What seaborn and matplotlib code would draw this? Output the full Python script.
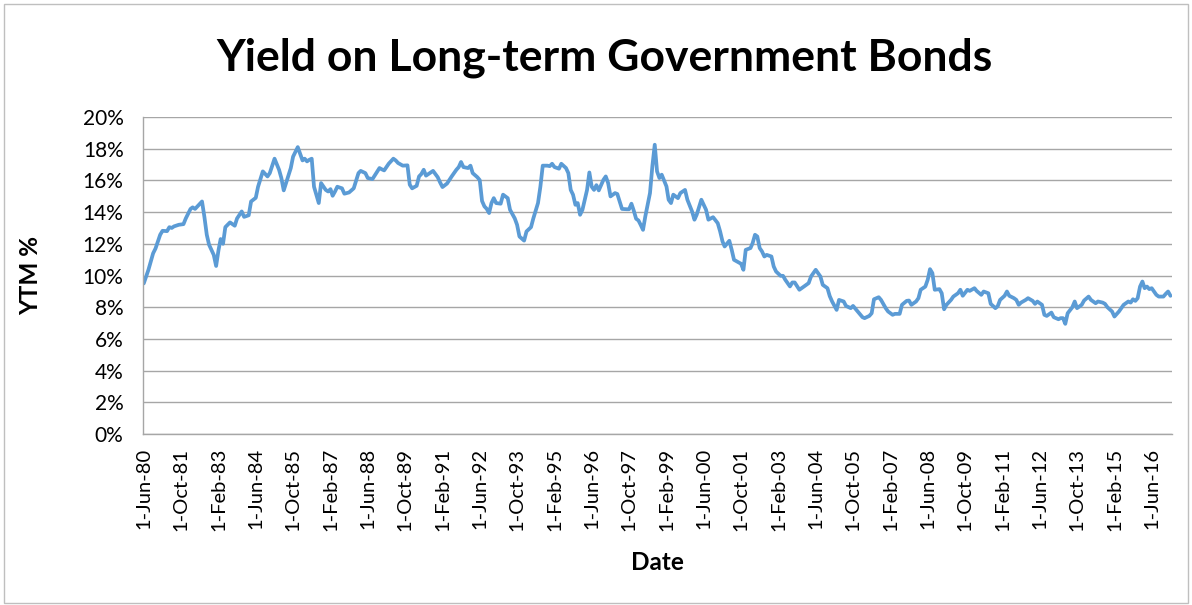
import matplotlib
matplotlib.use("Agg")
import matplotlib.pyplot as plt
import seaborn as sns
import pandas as pd
from matplotlib.ticker import FuncFormatter
from matplotlib.patches import Rectangle

# ---- data ----
start_date = "1980-06-01"
month_offset = [
    0, 2, 4, 5, 7, 8, 10, 11, 12, 13,
    15, 17, 18, 20, 21, 22, 25, 26, 27, 28,
    30, 31, 32, 33, 34, 35, 37, 39, 40, 42,
    43, 45, 46, 48, 49, 51, 53, 54, 56, 58,
    59, 60, 63, 64, 66, 68, 69, 70, 71, 72,
    73, 75, 76, 78, 79, 80, 81, 82, 83, 85,
    86, 88, 90, 92, 93, 95, 96, 98, 101, 102,
    103, 105, 107, 108, 109, 111, 113, 114, 115, 117,
    118, 119, 120, 121, 122, 124, 126, 127, 128, 130,
    132, 134, 135, 136, 137, 139, 140, 141, 143, 144,
    145, 146, 147, 148, 149, 150, 151, 153, 154, 156,
    157, 159, 160, 161, 163, 164, 166, 167, 169, 170,
    171, 173, 174, 175, 176, 178, 179, 181, 182, 183,
    184, 185, 186, 187, 188, 190, 191, 192, 193, 194,
    195, 197, 198, 199, 200, 202, 203, 204, 205, 207,
    208, 209, 210, 211, 212, 213, 214, 215, 217, 218,
    219, 220, 221, 222, 224, 225, 226, 227, 229, 230,
    232, 233, 235, 236, 237, 239, 241, 242, 244, 246,
    247, 248, 249, 251, 252, 253, 255, 256, 257, 258,
    260, 261, 262, 263, 264, 265, 266, 267, 269, 270,
    271, 273, 274, 275, 277, 278, 279, 281, 282, 283,
    285, 286, 288, 290, 291, 293, 294, 295, 297, 298,
    300, 301, 303, 304, 306, 308, 309, 311, 312, 313,
    315, 316, 318, 319, 321, 322, 324, 325, 327, 328,
    329, 331, 332, 333, 335, 336, 337, 338, 339, 341,
    342, 343, 344, 346, 347, 349, 350, 351, 353, 354,
    356, 357, 359, 360, 362, 363, 365, 366, 367, 369,
    370, 371, 373, 374, 375, 376, 378, 379, 381, 382,
    383, 385, 386, 387, 389, 390, 392, 393, 394, 395,
    396, 398, 399, 400, 402, 403, 405, 406, 408, 409,
    411, 412, 413, 415, 416, 418, 419, 420, 422, 423,
    424, 425, 426, 427, 428, 429, 430, 431, 432, 434,
    435, 437, 438, 439, 440,
]
ytm_pct = [
    9.5, 10.36, 11.4, 11.7, 12.57, 12.82, 12.8, 13.05, 13.0, 13.1,
    13.2, 13.24, 13.6, 14.2, 14.3, 14.2, 14.67, 13.7, 12.57, 11.94,
    11.3, 10.6, 11.6, 12.3, 12.0, 13.05, 13.35, 13.14, 13.6, 14.04,
    13.7, 13.8, 14.67, 14.9, 15.6, 16.57, 16.25, 16.46, 17.37, 16.67,
    16.15, 15.37, 16.78, 17.5, 18.1, 17.26, 17.37, 17.2, 17.3, 17.37,
    15.6, 14.57, 15.83, 15.4, 15.3, 15.45, 15.03, 15.3, 15.6, 15.5,
    15.16, 15.24, 15.5, 16.46, 16.6, 16.46, 16.15, 16.08, 16.78, 16.7,
    16.63, 17.05, 17.37, 17.26, 17.1, 16.93, 16.95, 15.73, 15.5, 15.66,
    16.25, 16.4, 16.67, 16.3, 16.4, 16.6, 16.2, 15.87, 15.58, 15.8,
    16.25, 16.67, 16.84, 17.16, 16.84, 16.78, 16.93, 16.46, 16.2, 16.02,
    14.7, 14.36, 14.2, 13.94, 14.57, 14.88, 14.57, 14.53, 15.1, 14.88,
    14.15, 13.6, 13.2, 12.46, 12.2, 12.78, 13.05, 13.6, 14.57, 15.6,
    16.93, 16.93, 16.9, 17.05, 16.84, 16.74, 17.05, 16.78, 16.46, 15.4,
    15.1, 14.46, 14.57, 13.83, 14.15, 15.4, 16.5, 15.6, 15.4, 15.7,
    15.37, 16.04, 16.25, 15.83, 14.99, 15.2, 15.14, 14.67, 14.2, 14.18,
    14.18, 14.53, 14.1, 13.58, 13.47, 13.2, 12.88, 13.73, 15.2, 16.9,
    18.25, 16.57, 16.15, 16.36, 15.62, 14.78, 14.57, 15.1, 14.88, 15.2,
    15.4, 14.78, 14.04, 13.52, 13.83, 14.78, 14.15, 13.52, 13.68, 13.3,
    12.78, 12.15, 11.83, 12.19, 11.62, 10.99, 10.82, 10.74, 10.36, 11.62,
    11.73, 12.04, 12.57, 12.46, 11.73, 11.52, 11.2, 11.3, 11.2, 10.57,
    10.25, 9.98, 9.98, 9.73, 9.31, 9.56, 9.56, 9.1, 9.2, 9.31,
    9.52, 9.94, 10.36, 9.94, 9.41, 9.2, 8.7, 8.36, 7.83, 8.46,
    8.36, 8.08, 7.94, 8.08, 7.73, 7.37, 7.31, 7.45, 7.62, 8.5,
    8.63, 8.46, 7.94, 7.73, 7.52, 7.58, 7.58, 8.15, 8.4, 8.42,
    8.15, 8.36, 8.57, 9.1, 9.3, 9.73, 10.4, 10.15, 9.1, 9.14,
    8.88, 7.87, 8.15, 8.46, 8.67, 8.88, 9.1, 8.72, 9.1, 9.03,
    9.2, 9.03, 8.78, 8.99, 8.88, 8.21, 7.94, 8.06, 8.46, 8.72,
    8.99, 8.72, 8.57, 8.46, 8.15, 8.29, 8.46, 8.57, 8.4, 8.21,
    8.36, 8.15, 7.52, 7.45, 7.66, 7.37, 7.24, 7.31, 7.31, 6.95,
    7.62, 8.0, 8.36, 7.94, 8.15, 8.42, 8.67, 8.46, 8.25, 8.36,
    8.29, 8.21, 8.0, 7.73, 7.41, 7.73, 7.94, 8.15, 8.36, 8.29,
    8.5, 8.4, 8.57, 9.3, 9.62, 9.2, 9.3, 9.14, 9.2, 8.78,
    8.67, 8.67, 8.84, 8.99, 8.72,
]
x_tick_labels = [
    "1-Jun-80", "1-Oct-81", "1-Feb-83", "1-Jun-84", "1-Oct-85", "1-Feb-87",
    "1-Jun-88", "1-Oct-89", "1-Feb-91", "1-Jun-92", "1-Oct-93", "1-Feb-95",
    "1-Jun-96", "1-Oct-97", "1-Feb-99", "1-Jun-00", "1-Oct-01", "1-Feb-03",
    "1-Jun-04", "1-Oct-05", "1-Feb-07", "1-Jun-08", "1-Oct-09", "1-Feb-11",
    "1-Jun-12", "1-Oct-13", "1-Feb-15", "1-Jun-16",
]
y_ticks = [0, 2, 4, 6, 8, 10, 12, 14, 16, 18, 20]

title = "Yield on Long-term Government Bonds"
x_title = "Date"
y_title = "YTM %"

# ---- build frame ----
start = pd.Timestamp(start_date)
dates = [start + pd.DateOffset(months=m) for m in month_offset]
df = pd.DataFrame({"Date": dates, "YTM": ytm_pct})
tick_dates = pd.to_datetime(x_tick_labels, format="%d-%b-%y")

# ---- style ----
sns.set_theme(style="white")
plt.rcParams["font.family"] = ["Lato", "DejaVu Sans"]
plt.rcParams["text.color"] = "black"
plt.rcParams["axes.labelcolor"] = "black"

W, H = 1192, 605
fig = plt.figure(figsize=(W / 100, H / 100), dpi=100)
fig.patch.set_facecolor("white")
ax = fig.add_axes([143 / W, 1 - 434 / H, (1172 - 143) / W, (434 - 117) / H])

sns.lineplot(data=df, x="Date", y="YTM", ax=ax, color="#5B9BD5",
             linewidth=2.7, legend=False)

ax.set_ylim(0, 20)
ax.set_yticks(y_ticks)
ax.yaxis.set_major_formatter(FuncFormatter(lambda v, p: f"{v:.0f}%"))
ax.set_xlim(start - pd.DateOffset(days=10), dates[-1] + pd.DateOffset(days=20))
ax.set_xticks(tick_dates)
ax.set_xticklabels(x_tick_labels, rotation=90)

ax.grid(axis="y", color="#A6A6A6", linewidth=1.0)
ax.set_axisbelow(True)
for s in ["top", "right"]:
    ax.spines[s].set_visible(False)
for s in ["left", "bottom"]:
    ax.spines[s].set_color("#A6A6A6")
    ax.spines[s].set_linewidth(1.0)

ax.tick_params(axis="y", length=0, pad=14, labelsize=15, labelcolor="black")
ax.tick_params(axis="x", length=0, pad=10, labelsize=14.5, labelcolor="black")

ax.set_xlabel(x_title, fontsize=17.5, fontweight="bold", color="black")
ax.set_ylabel(y_title, fontsize=17.5, fontweight="bold", color="black")
ax.xaxis.set_label_coords(0.5, -(551 - 434) / 317, transform=ax.transAxes)
ax.yaxis.set_label_coords(-(143 - 42) / 1029, 0.5, transform=ax.transAxes)

fig.text(604 / W, 1 - 58 / H, title, ha="center", va="center",
         fontsize=32, fontweight="bold", color="black")

fig.patches.append(Rectangle((4 / W, 2 / H), 1 - 8 / W, 1 - 6 / H,
                             transform=fig.transFigure, fill=False,
                             edgecolor="#BFBFBF", linewidth=1.0))

fig.savefig("out.png", dpi=100, facecolor="white")
